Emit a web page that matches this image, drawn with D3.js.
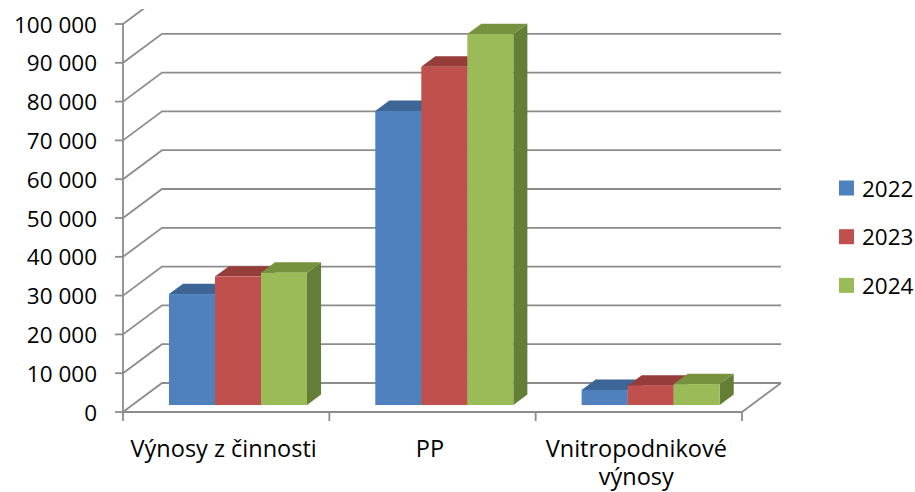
<!DOCTYPE html>
<html lang="cs">
<head>
<meta charset="UTF-8">
<title>Výnosy 2022–2024</title>
<script src="https://d3js.org/d3.v7.min.js"></script>
<style>
  body { margin: 0; background: #fff; }
  svg { display: block; font-family: 'Open Sans', sans-serif; }
  .lbl { font-size: 22.5px; fill: #000; }
  .cat { font-size: 23.5px; }
</style>
</head>
<body>
<div id="chart"></div>
<script>
// data
const categories = ["Výnosy z činnosti", "PP", "Vnitropodnikové výnosy"];
const years = ["2022", "2023", "2024"];
const values2022 = [28600, 75800, 3900];
const values2023 = [33100, 87200, 5000];
const values2024 = [34100, 95600, 5400];
const yTicks = [0, 10000, 20000, 30000, 40000, 50000, 60000, 70000, 80000, 90000, 100000];

const series = [values2022, values2023, values2024];
const frontCol = ["#4f81bd", "#c0504d", "#9bbb59"];
const topCol = ["#3d6696", "#963d3a", "#77923f"];
const sideCol = ["#36577f", "#7e3331", "#647d37"];

const width = 915, height = 492;
const depth = {dx: 39, dy: -29};   // oblique depth of the floor / back wall
const f0 = 0.24, f1 = 0.6;         // bar position inside depth

const x = d3.scaleBand().domain(categories).range([123, 742]);
const xs = d3.scaleBand().domain(years).range([0, x.bandwidth()])
    .paddingInner(0).paddingOuter(0.742).align(0.536);
const y = d3.scaleLinear().domain([0, 100000]).range([412, 24]);

const svg = d3.select("#chart").append("svg")
    .attr("width", width).attr("height", height);

svg.append("clipPath").attr("id", "clip")
  .append("rect").attr("x", 0).attr("y", 9).attr("width", width).attr("height", height);

const grid = svg.append("g").attr("clip-path", "url(#clip)")
    .attr("fill", "none").attr("stroke", "#8c8c8c").attr("stroke-width", 1.8);

const x0 = x.range()[0], x1 = x.range()[1];

// back wall gridlines + diagonals from the front axis
grid.selectAll("path.grid").data(yTicks).enter().append("path")
    .attr("class", "grid")
    .attr("d", v => `M${x0},${y(v)}L${x0 + depth.dx},${y(v) + depth.dy}H${x1 + depth.dx}`);

// floor front line, right edge
grid.append("path").attr("d", `M${x0},${y(0)}H${x1}L${x1 + depth.dx},${y(0) + depth.dy}`);

// vertical axis
grid.append("path").attr("d", `M${x0},${y(100000)}V${y(0) + 9}`);

// y ticks
grid.selectAll("path.yt").data(yTicks).enter().append("path")
    .attr("class", "yt")
    .attr("d", v => `M${x0 - 8},${y(v)}H${x0}`);

// category ticks
const bounds = categories.map(c => x(c)).concat([x1]);
grid.selectAll("path.xt").data(bounds.slice(1)).enter().append("path")
    .attr("class", "xt")
    .attr("d", b => `M${b},${y(0)}V${y(0) + 9}`);

// y labels
svg.selectAll("text.yl").data(yTicks).enter().append("text")
    .attr("class", "lbl yl")
    .attr("x", 97).attr("y", v => y(v))
    .attr("text-anchor", "end").attr("dominant-baseline", "central")
    .text(v => d3.format(",")(v).replace(/,/g, " "));

// bars
const bars = svg.append("g");
categories.forEach((c, ci) => {
  years.forEach((yr, si) => {
    const v = series[si][ci];
    const ox = depth.dx * f0, oy = depth.dy * f0;
    const bx = depth.dx * (f1 - f0), by = depth.dy * (f1 - f0);
    const l = x(c) + xs(yr) + ox, r = l + xs.bandwidth();
    const b = y(0) + oy, t = y(v) + oy;
    bars.append("path").attr("fill", sideCol[si])
        .attr("d", `M${r},${b}L${r + bx},${b + by}L${r + bx},${t + by}L${r},${t}Z`);
    bars.append("path").attr("fill", topCol[si])
        .attr("d", `M${l},${t}L${l + bx},${t + by}L${r + bx},${t + by}L${r},${t}Z`);
    bars.append("rect").attr("fill", frontCol[si])
        .attr("x", l).attr("y", t).attr("width", r - l).attr("height", b - t);
  });
});

// category labels
const catLines = {"Vnitropodnikové výnosy": ["Vnitropodnikové", "výnosy"]};
categories.forEach(c => {
  const lines = catLines[c] || [c];
  const cx = x(c) + x.bandwidth() / 2 - 2.5;
  const t = svg.append("text").attr("class", "lbl cat")
      .attr("x", cx).attr("y", 457).attr("text-anchor", "middle");
  lines.forEach((s, i) => t.append("tspan")
      .attr("x", cx).attr("dy", i ? 28 : 0).text(s));
});

// legend
const legend = svg.append("g");
years.forEach((yr, i) => {
  const ly = 188 + i * 48.7;
  legend.append("rect").attr("x", 839).attr("y", ly - 7.5)
      .attr("width", 15).attr("height", 15).attr("fill", frontCol[i]);
  legend.append("text").attr("class", "lbl")
      .attr("x", 862).attr("y", ly).attr("dominant-baseline", "central").text(yr);
});
</script>
</body>
</html>
